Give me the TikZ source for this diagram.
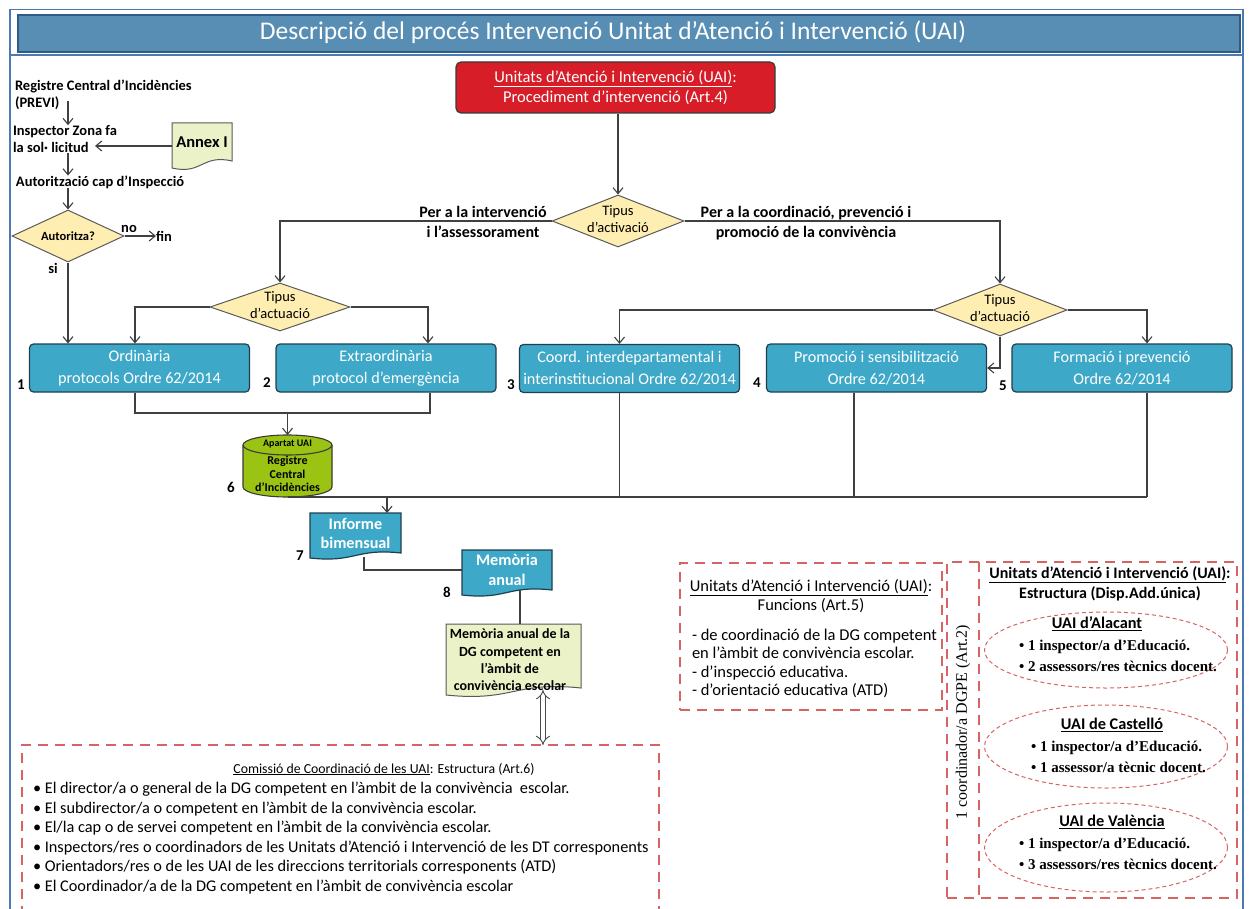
\documentclass[tikz,border=0pt]{standalone}
\usepackage{fontspec}
\setmainfont{Carlito}
\newfontfamily\tmsfont{Liberation Serif}
\usetikzlibrary{arrows.meta,shapes.geometric,calc}
\pgfdeclarelayer{bg}
\pgfsetlayers{bg,main}
\newcommand\myfs[2]{\fontsize{#1}{#2}\selectfont}
\newcommand\docwave[3]{\path[#2] (#1.north west) -- (#1.north east) -- (#1.south east) .. controls ($(#1.south)+(0,-#3)$) and ($(#1.south)+(0,2*#3)$) .. ($(#1.south west)+(0,#3)$) -- cycle;}
\definecolor{titlebar}{HTML}{588EB4}
\definecolor{titleedge}{HTML}{2E5C85}
\definecolor{uaired}{HTML}{D71E28}
\definecolor{uaiteal}{HTML}{3EA8C8}
\definecolor{tealedge}{HTML}{1F3F4F}
\definecolor{diafill}{HTML}{FFEEB2}
\definecolor{diaedge}{HTML}{5A5A5A}
\definecolor{cylg}{HTML}{9BC314}
\definecolor{docg}{HTML}{EBF2C8}
\definecolor{dashred}{HTML}{D76464}
\definecolor{lnc}{HTML}{404040}
\definecolor{frameblue}{HTML}{4A7AB0}
\definecolor{darkedge}{HTML}{3A3A3A}
\begin{document}
\begin{tikzpicture}[x=1pt,y=-1pt,
 conn/.style={draw=lnc,line width=1.1pt},
 arr/.style={conn,-{Straight Barb[length=6pt,width=10pt]}},
 tbox/.style={rectangle,rounded corners=4pt,fill=uaiteal,draw=tealedge,line width=1.2pt,minimum width=220,minimum height=48,inner sep=1pt,text=white,align=center,font=\myfs{16.2}{22}},
 dia/.style={diamond,draw=diaedge,fill=diafill,line width=1pt,inner sep=0pt},
 diat/.style={plain,align=center,font=\myfs{14.5}{17}},
 plain/.style={inner sep=0pt,outer sep=0pt},
 lbl/.style={plain,align=center,font=\bfseries\myfs{16}{20.5}},
 num/.style={plain,font=\bfseries\myfs{15}{17}},
 dsh/.style={draw=dashred,line width=2.2pt,dash pattern=on 10pt off 7pt},
 eds/.style={ellipse,draw=dashred,line width=1pt,dash pattern=on 4pt off 3pt},
 docn/.style={plain,rectangle,align=center},
 tl/.style={plain,font=\bfseries\myfs{14.5}{17.5}},
 tms/.style={plain,anchor=west,align=left,font=\tmsfont\bfseries\myfs{15}{21}},
 etl/.style={plain,font=\bfseries\myfs{16.3}{18}},
]
\useasboundingbox (0,0) rectangle (1249,909);
\begin{pgfonlayer}{bg}
\fill[white] (0,0) rectangle (1249,909);
\end{pgfonlayer}
% frame and title
\draw[draw=frameblue,line width=1.5pt] (10,912) -- (10,9.5) -- (1243,9.5) -- (1243,912);
\draw[draw=frameblue,line width=1.5pt] (10,55) -- (1243,55);
\node (tbar) [plain,fill=titlebar,draw=titleedge,line width=1.5pt,minimum width=1222,minimum height=37] at (629,33.5) {};
\node (ttl) [plain,text=white,font=\myfs{25.5}{28}] at (613,32) {Descripció del procés Intervenció Unitat d’Atenció i Intervenció (UAI)};

% left top flow
\node (rci) [tl,anchor=west,align=left] at (15,95) {Registre Central d’Incidències\\ (PREVI)};
\node (insp) [tl,anchor=west,align=left] at (13,139) {Inspector Zona fa\\la sol· licitud};
\node (aut) [tl,anchor=west] at (16,182) {Autorització cap d’Inspecció};
\node (autz) [dia,minimum width=112,minimum height=52] at (68,236) {};
\node (autzt) [diat,font=\bfseries\myfs{12.5}{15}] at (autz) {Autoritza?};
\node (fin) [tl,anchor=west] at (156,236) {fin};
\node (no) [tl] at (129,229) {no};
\node (si) [tl] at (53,268) {si};
\node (annex) [docn,minimum width=60,minimum height=38,font=\bfseries\myfs{16.5}{18}] at (202,142) {Annex I};
\begin{pgfonlayer}{bg}
\docwave{annex}{fill=docg,draw=diaedge,line width=1pt}{7}
\end{pgfonlayer}
\coordinate (c1) at (68,101);
\draw[arr] (c1) -- (c1 |- insp.north);
\draw[arr] (insp.south -| c1) -- (aut.north -| c1);
\draw[arr] (aut.south -| c1) -- (autz.north);
\coordinate (c2) at (95,146);
\draw[arr] (c2 -| annex.west) -- (c2);
\draw[arr] (autz.east) -- (fin.west);

% main procedure
\node (uai) [rectangle,rounded corners=5pt,fill=uaired,draw=darkedge,line width=1.2pt,minimum width=319,minimum height=51,text=white,align=center,font=\myfs{16.5}{20}] at (615.5,87.5) {\underline{Unitats d’Atenció i Intervenció (UAI)}:\\Procediment d’intervenció (Art.4)};
\node (act) [dia,minimum width=132,minimum height=52] at (618,221) {};
\node (actt) [diat] at (618,219) {Tipus\\d’activació};
\draw[arr] (uai.south -| act.north) -- (act.north);
\node (lint) [lbl] at (483,222) {Per a la intervenció\\i l’assessorament};
\node (lcoo) [lbl] at (806,223) {Per a la coordinació, prevenció i\\promoció de la convivència};
\node (ta1) [dia,minimum width=140,minimum height=48] at (280,307) {};
\node (ta1t) [diat] at (280,305) {Tipus\\d’actuació};
\node (ta2) [dia,minimum width=134,minimum height=52] at (1000,310) {};
\node (ta2t) [diat] at (1000,308) {Tipus\\d’actuació};
\draw[arr] (act.west) -| (ta1.north);
\draw[arr] (act.east) -| (ta2.north);

% boxes
\node (b1) [tbox] at (139.5,368) {Ordinària\\protocols Ordre 62/2014};
\node (b2) [tbox] at (386,368) {Extraordinària\\protocol d’emergència};
\node (b3) [tbox] at (629.5,368.5) {Coord. interdepartamental i\\interinstitucional Ordre 62/2014};
\node (b4) [tbox] at (876.5,368) {Promoció i sensibilització\\Ordre 62/2014};
\node (b5) [tbox] at (1122,368) {Formació i prevenció\\Ordre 62/2014};
\node (n1) [num] at (21,385) {1};
\node (n2) [num] at (267,383) {2};
\node (n3) [num] at (511,385) {3};
\node (n4) [num] at (757,383) {4};
\node (n5) [num] at (1003,386) {5};
\node (n6) [num] at (231,487) {6};
\node (n7) [num] at (300,556) {7};
\node (n8) [num] at (447,592) {8};

\coordinate (b1a) at ([xshift=-4.5pt]b1.north);
\coordinate (b2a) at ([xshift=42pt]b2.north);
\coordinate (b3a) at ([xshift=-10pt]b3.north);
\coordinate (b5a) at ([xshift=25pt]b5.north);
\draw[arr] (autz.south) -- (autz.south |- b1.north);
\draw[arr] (ta1.west) -| (b1a);
\draw[arr] (ta1.east) -| (b2a);
\draw[arr] (ta2.west) -| (b3a);
\draw[arr] (ta2.east) -| (b5a);
\draw[arr] (ta2.south) |- (b4.east);

\coordinate (b1b) at ([xshift=-4.5pt]b1.south);
\coordinate (b2b) at ([xshift=44pt]b2.south);
\coordinate (b3b) at ([xshift=-10pt]b3.south);
\coordinate (b4b) at ([xshift=-22.5pt]b4.south);
\coordinate (b5b) at ([xshift=25pt]b5.south);
\coordinate (j1) at (287.5,413);
\draw[conn] (b1b) -- (b1b |- j1) -- (b2b |- j1) -- (b2b);

% cylinder
\node (reg) [plain,minimum width=89,minimum height=62] at (287.5,466) {};
\draw[arr] (j1) -- (reg.north);
\path[fill=cylg] (243,445) -- (243,487) arc[start angle=180,end angle=0,x radius=44.5,y radius=10] -- (332,445) -- cycle;
\draw[draw=darkedge,line width=1.1pt] (243,445) -- (243,487) arc[start angle=180,end angle=0,x radius=44.5,y radius=10] -- (332,445);
\draw[draw=darkedge,line width=1.1pt,fill=cylg] (287.5,445) ellipse [x radius=44.5,y radius=10];
\node (apu) [plain,font=\bfseries\myfs{10}{11}] at (287.5,444) {Apartat UAI};
\node (regt) [plain,align=center,font=\bfseries\myfs{12}{13.5}] at (287.5,474) {Registre\\Central\\d’Incidències};

\draw[conn] (reg.south) -- (b5b |- reg.south);
\draw[conn] (b3b) -- (b3b |- reg.south);
\draw[conn] (b4b) -- (b4b |- reg.south);
\draw[conn] (b5b) -- (b5b |- reg.south);
\coordinate (j2) at (387,497);

% documents
\node (inf) [docn,minimum width=91,minimum height=40,text=white,font=\bfseries\myfs{16.2}{19}] at (355.5,533) {Informe\\bimensual};
\node (mem) [docn,minimum width=90,minimum height=40,text=white,font=\bfseries\myfs{16.2}{20}] at (507,570) {Memòria\\anual};
\node (mg) [docn,minimum width=135,minimum height=64,font=\bfseries\myfs{14}{17.3}] at (513.5,656) {};
\node (mgt) [plain,align=center,font=\bfseries\myfs{14}{17.3}] at (510,660) {Memòria anual de la\\DG competent en\\l’àmbit de\\convivència escolar};
\begin{pgfonlayer}{bg}
\docwave{inf}{fill=uaiteal,draw=tealedge,line width=1.2pt}{5}
\docwave{mem}{fill=uaiteal,draw=tealedge,line width=1.2pt}{5}
\docwave{mg}{fill=docg,draw=diaedge,line width=1pt}{7}
\end{pgfonlayer}
\draw[arr] (j2) -- (j2 |- inf.north);
\coordinate (c7) at (364,557);
\draw[conn] (c7) |- (mem.west);
\coordinate (c8) at (520,590);
\draw[conn] (c8) -- (c8 |- mg.north);

% commission
\node (com) [plain,dsh,rectangle,minimum width=637,minimum height=180,anchor=north west] at (22,745) {};
\coordinate (c9) at (543,690);
\draw[double=white,draw=gray!60!black,line width=0.9pt,double distance=4pt,{Implies}-{Implies}] (c9) -- (c9 |- com.north);
\node (comt) [plain,font=\myfs{13.8}{16}] at (384,769) {\underline{Comissió de Coordinació de les UAI}: Estructura (Art.6)};
\node (comb) [plain,anchor=north west,align=left,font=\myfs{16.3}{19.6}] at (33,782) {• El director/a o general de la DG competent en l'àmbit de la convivència\ \ escolar.\\• El subdirector/a o competent en l'àmbit de la convivència escolar.\\• El/la cap o de servei competent en l'àmbit de la convivència escolar.\\• Inspectors/res o coordinadors de les Unitats d’Atenció i Intervenció de les DT corresponents\\• Orientadors/res o de les UAI de les direccions territorials corresponents (ATD)\\• El Coordinador/a de la DG competent en l'àmbit de convivència escolar};

% functions
\node (fun) [plain,dsh,rectangle,minimum width=262,minimum height=147,anchor=north west] at (680,563) {};
\node (funt) [plain,align=center,font=\myfs{16.5}{18.5}] at (811,596) {\underline{Unitats d’Atenció i Intervenció (UAI)}:\\Funcions (Art.5)};
\node (funb) [plain,anchor=north west,align=left,font=\myfs{16.5}{18.5}] at (692,629) {- de coordinació de la DG competent\\en l’àmbit de convivència escolar.\\- d’inspecció educativa.\\- d’orientació educativa (ATD)};

% structure
\node (est) [plain,dsh,rectangle,minimum width=290,minimum height=336,anchor=north west] at (947,562) {};
\coordinate (ev) at (979,562);
\draw[dsh] (ev) -- (ev |- est.south);
\node (estv) [plain,rotate=90,font=\tmsfont\myfs{16}{18}] at (963,722) {1 coordinador/a DGPE (Art.2)};
\node (estt) [plain,align=center,font=\bfseries\myfs{16}{20}] at (1110,584) {\underline{Unitats d’Atenció i Intervenció (UAI)}:\\Estructura (Disp.Add.única)};
\node (e1) [eds,minimum width=243,minimum height=76] at (1106,650) {};
\node (e1t) [etl] at (1097,624) {\underline{UAI d’Alacant}};
\node (e1b) [tms] at (1019,656) {• 1 inspector/a d’Educació.\\• 2 assessors/res tècnics docent.};
\node (e2) [eds,minimum width=243,minimum height=83] at (1106,746.5) {};
\node (e2t) [etl] at (1112,725) {\underline{UAI de Castelló}};
\node (e2b) [tms] at (1031,757) {• 1 inspector/a d’Educació.\\• 1 assessor/a tècnic docent.};
\node (e3) [eds,minimum width=243,minimum height=89] at (1106,847.5) {};
\node (e3t) [etl] at (1112,822) {\underline{UAI de València}};
\node (e3b) [tms] at (1019,854) {• 1 inspector/a d’Educació.\\• 3 assessors/res tècnics docent.};
\end{tikzpicture}
\end{document}
